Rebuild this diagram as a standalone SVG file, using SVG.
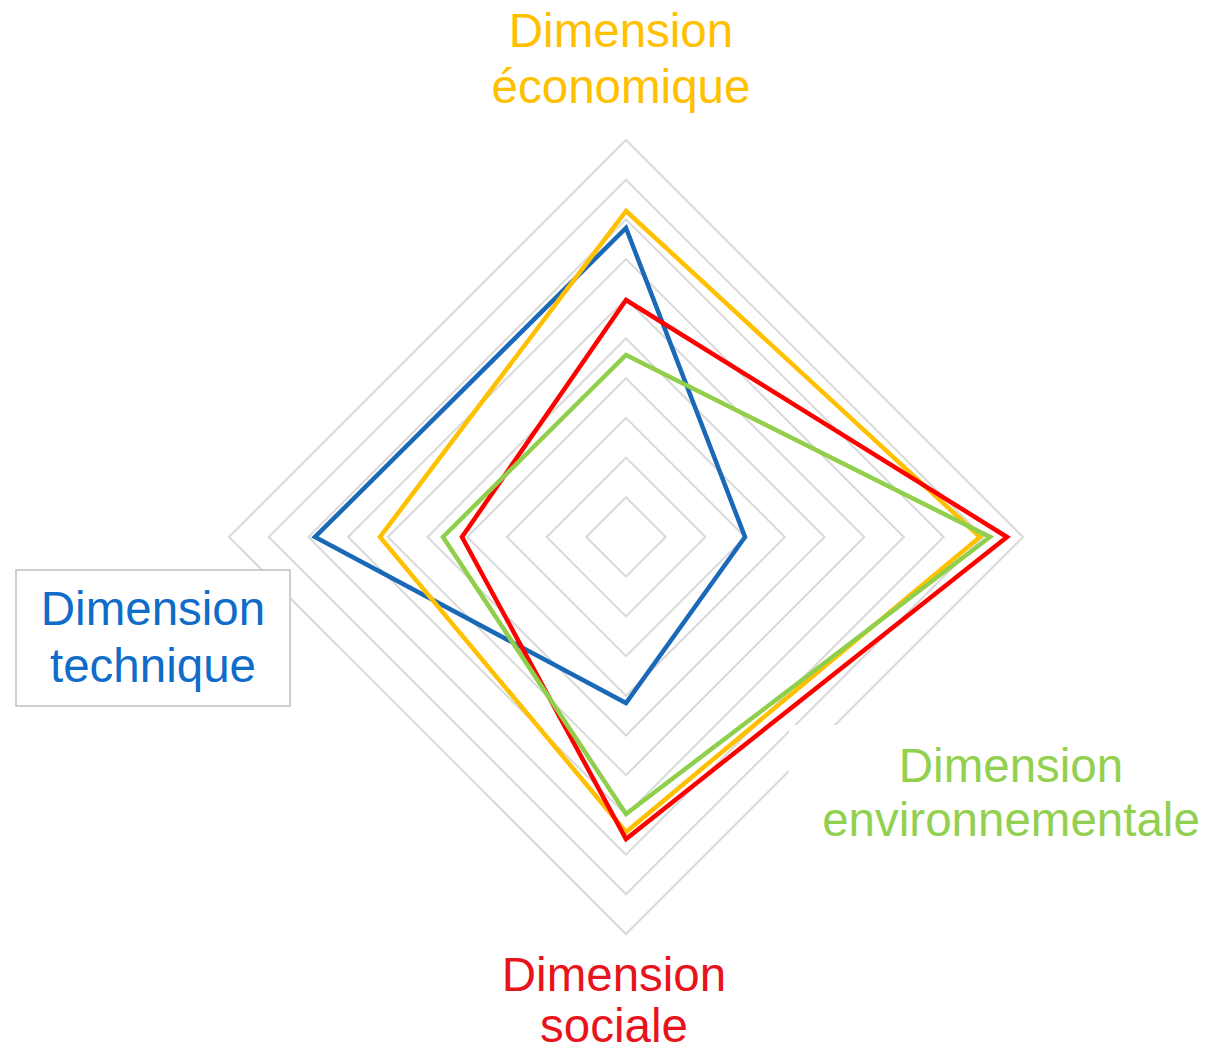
<svg xmlns="http://www.w3.org/2000/svg" width="1206" height="1051" viewBox="0 0 1206 1051">
  <style>
    .grid { fill: none; stroke: #d9d9d9; stroke-width: 2; }
    .series { fill: none; stroke-width: 4.5; stroke-linejoin: miter; }
    .lbl { font-family: "Liberation Sans", Arial, sans-serif; font-size: 47.5px; text-anchor: middle; }
  </style>
  <rect x="0" y="0" width="1206" height="1051" fill="#ffffff"/>
  <g id="grid">
    <polygon class="grid" points="626,497.3 665.7,537 626,576.7 586.3,537"/>
    <polygon class="grid" points="626,457.6 705.4,537 626,616.4 546.6,537"/>
    <polygon class="grid" points="626,417.9 745.1,537 626,656.1 506.9,537"/>
    <polygon class="grid" points="626,378.2 784.8,537 626,695.8 467.2,537"/>
    <polygon class="grid" points="626,338.5 824.5,537 626,735.5 427.5,537"/>
    <polygon class="grid" points="626,298.8 864.2,537 626,775.2 387.8,537"/>
    <polygon class="grid" points="626,259.1 903.9,537 626,814.9 348.1,537"/>
    <polygon class="grid" points="626,219.4 943.6,537 626,854.6 308.4,537"/>
    <polygon class="grid" points="626,179.7 983.3,537 626,894.3 268.7,537"/>
    <polygon class="grid" points="626,140 1023,537 626,934 229,537"/>
  </g>
  <g id="connectors">
    <polygon id="series-technique" class="series" stroke="#1a68b8" points="626,228 745,537 626,703 315,537"/>
    <polygon id="series-economique" class="series" stroke="#ffc000" points="626,211 980,537 626,832 380,537"/>
    <polygon id="series-sociale" class="series" stroke="#ff0000" points="626,300 1007,537 626,839 462,537"/>
    <polygon id="series-environnementale" class="series" stroke="#8fcf4c" points="626,355 990,537 626,814 443,537"/>
  </g>
  <g id="label-economique">
    <text class="lbl" fill="#ffc000" x="621" y="47">Dimension</text>
    <text class="lbl" fill="#ffc000" x="621" y="103">économique</text>
  </g>
  <g id="label-technique">
    <rect x="16" y="570" width="274" height="136" fill="#ffffff" stroke="#bfbfbf" stroke-width="1.5"/>
    <text class="lbl" fill="#0f6cc8" x="153" y="625">Dimension</text>
    <text class="lbl" fill="#0f6cc8" x="153" y="682">technique</text>
  </g>
  <g id="label-environnementale">
    <rect x="789" y="725" width="417" height="135" fill="#ffffff"/>
    <text class="lbl" fill="#92d050" x="1011" y="782">Dimension</text>
    <text class="lbl" fill="#92d050" x="1011" y="836">environnementale</text>
  </g>
  <g id="label-sociale">
    <text class="lbl" fill="#e8141c" x="614" y="991">Dimension</text>
    <text class="lbl" fill="#e8141c" x="614" y="1042">sociale</text>
  </g>
</svg>
